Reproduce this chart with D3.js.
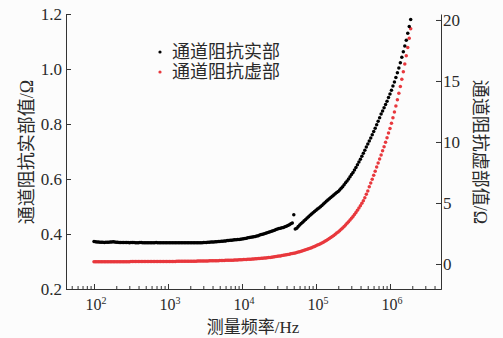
<!DOCTYPE html>
<html><head><meta charset="utf-8">
<script src="https://cdn.jsdelivr.net/npm/d3@7"></script>
<style>body{margin:0;background:#fcfcfc} svg{display:block}</style>
</head><body><svg id="c" width="503" height="338"></svg>
<script>
// ---------------- data ----------------
const freq = [
100,104.7,109.6,114.8,120.2,125.9,131.8,138,144.5,151.4,158.5,166,173.8,182,190.5,199.5,208.9,218.8,229.1,239.9,251.2,263,275.4,288.4,302,316.2,331.1,346.7,363.1,380.2,398.1,416.9,436.5,457.1,478.6,501.2,524.8,549.5,575.4,602.6,631,660.7,691.8,724.4,758.6,794.3,831.8,871,912,955,
1000,1047,1096,1148,1202,1259,1318,1380,1445,1514,1585,1660,1738,1820,1905,1995,2089,2188,2291,2399,2512,2630,2754,2884,3020,3162,3311,3467,3631,3802,3981,4169,4365,4571,4786,5012,5248,5495,5754,6026,6310,6607,6918,7244,7586,7943,8318,8710,9120,9550,
10000,10470,10960,11480,12020,12590,13180,13800,14450,15140,15850,16600,17380,18200,19050,19950,20890,21880,22910,23990,25120,26300,27540,28840,30200,31620,33110,34670,36310,38020,39810,41690,43650,45710,47860,50120,52480,54950,57540,60260,63100,66070,69180,72440,75860,79430,83180,87100,91200,95500,
100000,104700,109600,114800,120200,125900,131800,138000,144500,151400,158500,166000,173800,182000,190500,199500,208900,218800,229100,239900,251200,263000,275400,288400,302000,316200,331100,346700,363100,380200,398100,416900,436500,457100,478600,501200,524800,549500,575400,602600,631000,660700,691800,724400,758600,794300,831800,871000,912000,955000,
1000000,1047000,1096000,1148000,1202000,1259000,1318000,1380000,1445000,1514000,1585000,1660000,1738000,1820000,1905000
];
const realPart = [
0.373,0.372,0.371,0.371,0.370,0.370,0.370,0.369,0.370,0.370,
0.370,0.371,0.371,0.372,0.371,0.370,0.370,0.369,0.369,0.369,
0.369,0.369,0.369,0.369,0.368,0.369,0.369,0.369,0.368,0.368,
0.368,0.369,0.369,0.368,0.368,0.368,0.368,0.368,0.368,0.368,
0.368,0.368,0.369,0.368,0.368,0.368,0.368,0.368,0.368,0.368,
0.368,0.368,0.368,0.368,0.368,0.368,0.368,0.368,0.368,0.368,
0.368,0.368,0.368,0.368,0.368,0.368,0.368,0.368,0.368,0.368,
0.368,0.368,0.368,0.368,0.369,0.369,0.369,0.370,0.370,0.371,
0.371,0.371,0.372,0.372,0.373,0.373,0.374,0.374,0.375,0.375,
0.376,0.376,0.377,0.377,0.378,0.379,0.379,0.380,0.380,0.381,
0.382,0.383,0.384,0.385,0.386,0.387,0.388,0.389,0.390,0.391,
0.393,0.394,0.396,0.398,0.399,0.401,0.403,0.405,0.406,0.408,
0.410,0.412,0.414,0.416,0.418,0.420,0.421,0.423,0.424,0.426,
0.428,0.431,0.434,0.437,0.440,0.470,0.418,0.421,0.427,0.433,
0.438,0.443,0.448,0.453,0.458,0.463,0.468,0.473,0.477,0.482,
0.486,0.491,0.495,0.499,0.504,0.509,0.514,0.519,0.524,0.528,
0.533,0.537,0.542,0.546,0.551,0.555,0.560,0.566,0.572,0.579,
0.586,0.593,0.600,0.608,0.616,0.624,0.633,0.642,0.652,0.662,
0.672,0.683,0.694,0.705,0.716,0.727,0.738,0.749,0.761,0.773,
0.785,0.797,0.810,0.823,0.836,0.847,0.859,0.871,0.883,0.896,
0.909,0.923,0.938,0.953,0.969,0.986,1.004,1.023,1.043,1.063,
1.084,1.105,1.130,1.155,1.180
];
const imagPart = [
0.19,0.19,0.19,0.19,0.19,0.19,0.19,0.19,0.19,0.19,
0.19,0.19,0.19,0.19,0.19,0.19,0.19,0.19,0.19,0.19,
0.19,0.19,0.19,0.19,0.19,0.20,0.20,0.20,0.20,0.20,
0.20,0.20,0.20,0.20,0.20,0.20,0.20,0.20,0.20,0.20,
0.20,0.20,0.20,0.20,0.21,0.21,0.21,0.21,0.21,0.21,
0.21,0.21,0.21,0.21,0.21,0.21,0.22,0.22,0.22,0.22,
0.22,0.22,0.22,0.22,0.23,0.23,0.23,0.23,0.23,0.23,
0.24,0.24,0.24,0.24,0.24,0.25,0.25,0.25,0.26,0.26,
0.26,0.26,0.27,0.27,0.27,0.28,0.28,0.29,0.29,0.30,
0.30,0.30,0.31,0.31,0.31,0.32,0.33,0.33,0.34,0.35,
0.35,0.36,0.36,0.37,0.38,0.39,0.39,0.40,0.41,0.42,
0.43,0.44,0.45,0.47,0.48,0.49,0.50,0.52,0.53,0.54,
0.56,0.58,0.59,0.61,0.63,0.65,0.66,0.69,0.71,0.73,
0.75,0.78,0.80,0.83,0.85,0.88,0.91,0.94,0.98,1.01,
1.04,1.08,1.12,1.16,1.20,1.24,1.29,1.34,1.39,1.44,
1.49,1.55,1.60,1.66,1.73,1.79,1.86,1.93,2.01,2.09,
2.17,2.25,2.34,2.43,2.53,2.63,2.73,2.84,2.96,3.08,
3.20,3.33,3.46,3.60,3.75,3.90,4.06,4.23,4.40,4.58,
4.77,4.97,5.19,5.43,5.71,5.99,6.33,6.64,6.95,7.27,
7.61,7.94,8.27,8.60,8.94,9.29,9.61,9.97,10.35,10.73,
11.10,11.54,11.98,12.45,12.94,13.46,13.99,14.55,15.14,15.75,
16.39,17.06,17.75,18.50,19.29
];
const leftTicks = [0.2, 0.4, 0.6, 0.8, 1.0, 1.2];
const leftTickLabels = ["0.2", "0.4", "0.6", "0.8", "1.0", "1.2"];
const rightTicks = [0, 5, 10, 15, 20];
const rightTickLabels = ["0", "5", "10", "15", "20"];
const xMajor = [1e2, 1e3, 1e4, 1e5, 1e6];
const xExponents = ["2", "3", "4", "5", "6"];
const seriesNames = ["通道阻抗实部", "通道阻抗虚部"];
const seriesColors = ["#000000", "#e8383d"];
const xTitle = "测量频率/Hz";
const yLeftTitle = "通道阻抗实部值/Ω";
const yRightTitle = "通道阻抗虚部值/Ω";

// ---------------- chart ----------------
const svg = d3.select("#c");
svg.append("rect").attr("width", 503).attr("height", 338).attr("fill", "#fcfcfc");

const x = d3.scaleLog().domain([41.85, 4.89e6]).range([66, 441]);
const yL = d3.scaleLinear().domain([0.2, 1.2]).range([289, 14]);
const yR = d3.scaleLinear().domain([-2.05, 20.49]).range([289, 14]);

const axisColor = "#333";
const textColor = "#2a2a2a";
const serif = '"Liberation Serif","Times New Roman",serif';
const mixed = '"Liberation Serif","Noto Sans CJK SC",serif';

function styleAxis(g) {
  g.selectAll("path.domain").attr("stroke", axisColor).attr("stroke-width", 1);
  g.selectAll(".tick line").attr("stroke", axisColor).attr("stroke-width", 1);
}

const minor = x.ticks().filter(v => Math.abs(Math.log10(v) - Math.round(Math.log10(v))) > 1e-6);

svg.append("g").attr("transform", "translate(0,289)")
  .call(d3.axisBottom(x).tickValues(minor).tickSize(-3).tickSizeOuter(0).tickFormat(""))
  .call(styleAxis);
svg.append("g").attr("transform", "translate(0,289)")
  .call(d3.axisBottom(x).tickValues(xMajor).tickSize(-5).tickSizeOuter(0).tickFormat(""))
  .call(styleAxis);
svg.append("g").attr("transform", "translate(66,0)")
  .call(d3.axisLeft(yL).tickValues(leftTicks).tickSize(-5).tickSizeOuter(0).tickFormat(""))
  .call(styleAxis);
svg.append("g").attr("transform", "translate(441,0)")
  .call(d3.axisRight(yR).tickValues(rightTicks).tickSize(-5).tickSizeOuter(0).tickFormat(""))
  .call(styleAxis);

// tick labels
svg.append("g").selectAll("text").data(leftTicks).join("text")
  .attr("x", 62).attr("y", d => yL(d)).attr("dy", "0.35em")
  .attr("text-anchor", "end").attr("font-family", serif).attr("font-size", 17)
  .attr("fill", textColor).text((d, i) => leftTickLabels[i]);

svg.append("g").selectAll("text").data(rightTicks).join("text")
  .attr("x", 443).attr("y", d => yR(d)).attr("dy", "0.35em")
  .attr("text-anchor", "start").attr("font-family", serif).attr("font-size", 17)
  .attr("fill", textColor).text((d, i) => rightTickLabels[i]);

const xl = svg.append("g").selectAll("text").data(xMajor).join("text")
  .attr("x", d => x(d) + 2).attr("y", 310)
  .attr("text-anchor", "middle").attr("font-family", serif).attr("font-size", 16)
  .attr("fill", textColor);
xl.append("tspan").text("10");
xl.append("tspan").attr("dy", -6).attr("font-size", 10).text((d, i) => xExponents[i]);

// titles
svg.append("text").attr("x", 253).attr("y", 333).attr("text-anchor", "middle")
  .attr("font-family", mixed).attr("font-size", 17).attr("fill", textColor).text(xTitle);
svg.append("text").attr("transform", "translate(27,152) rotate(-90)")
  .attr("text-anchor", "middle").attr("dominant-baseline", "central")
  .attr("font-family", mixed).attr("font-size", 18).attr("fill", textColor).text(yLeftTitle);
svg.append("text").attr("transform", "translate(480,152) rotate(90)")
  .attr("text-anchor", "middle").attr("dominant-baseline", "central")
  .attr("font-family", mixed).attr("font-size", 18).attr("fill", textColor).text(yRightTitle);

// series
const imagPts = freq.map((f, i) => ({f, v: imagPart[i]}));
const realPts = freq.map((f, i) => ({f, v: realPart[i]}));

svg.append("g").selectAll("circle").data(imagPts).join("circle")
  .attr("cx", d => x(d.f)).attr("cy", d => yR(d.v)).attr("r", 1.75)
  .attr("fill", seriesColors[1]);
svg.append("g").selectAll("circle").data(realPts).join("circle")
  .attr("cx", d => x(d.f)).attr("cy", d => yL(d.v)).attr("r", 1.75)
  .attr("fill", seriesColors[0]);

// legend
const lg = svg.append("g").selectAll("g").data(seriesNames).join("g")
  .attr("transform", (d, i) => `translate(160,${52 + i * 20})`);
lg.append("circle").attr("r", 1.6).attr("fill", (d, i) => seriesColors[i]);
lg.append("text").attr("x", 12).attr("dy", "0.35em").attr("font-family", mixed)
  .attr("font-size", 18).attr("fill", textColor).text(d => d);
</script>
</body></html>
